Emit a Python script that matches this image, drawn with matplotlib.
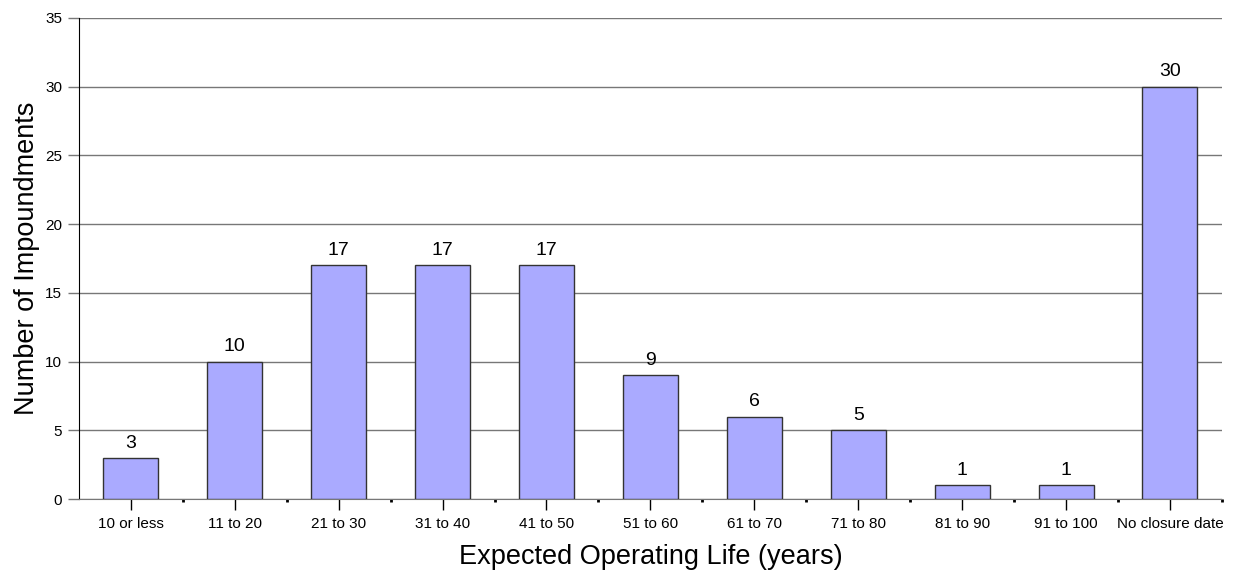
import matplotlib
matplotlib.use("Agg")
import matplotlib.pyplot as plt
import numpy as np

plt.rcParams['font.family'] = ['Liberation Sans', 'DejaVu Sans']

categories = ["10 or less", "11 to 20", "21 to 30", "31 to 40", "41 to 50", "51 to 60",
              "61 to 70", "71 to 80", "81 to 90", "91 to 100", "No closure date"]
counts = [3, 10, 17, 17, 17, 9, 6, 5, 1, 1, 30]
yticks = [0, 5, 10, 15, 20, 25, 30, 35]

fig = plt.figure(figsize=(12.33, 5.75), dpi=100)
ax = fig.add_axes([0.064, 0.132, 0.927, 0.837])

x = np.arange(len(categories))
bars = ax.bar(x, counts, width=0.53, color="#AAAAFF", edgecolor="#333333", linewidth=1.0, zorder=3)
for xi, v in zip(x, counts):
    ax.text(xi, v + 0.45, str(v), ha="center", va="bottom", fontsize=14, zorder=4)

ax.set_xlim(-0.5, len(categories) - 0.5)
ax.set_ylim(0, 35)
ax.set_yticks(yticks)
ax.yaxis.grid(True, color="#777777", linewidth=1.0, zorder=0)
ax.set_axisbelow(True)

ax.set_xticks(x)
ax.set_xticklabels(categories, fontsize=11)
ax.set_xticks(np.arange(len(categories)) + 0.5, minor=True)
ax.tick_params(axis="x", which="major", length=8, width=1, color="black", pad=5)
ax.tick_params(axis="x", which="minor", length=2, width=2, color="black")
ax.tick_params(axis="y", length=8, width=1, color="#777777", labelsize=11, pad=4)

for s in ["top", "right"]:
    ax.spines[s].set_visible(False)
ax.spines["left"].set_color("black")
ax.spines["bottom"].set_color("#777777")

ax.set_xlabel("Expected Operating Life (years)", fontsize=19.5, labelpad=9)
ax.set_ylabel("Number of Impoundments", fontsize=19.5, labelpad=4)

fig.savefig("out.png", dpi=100)
